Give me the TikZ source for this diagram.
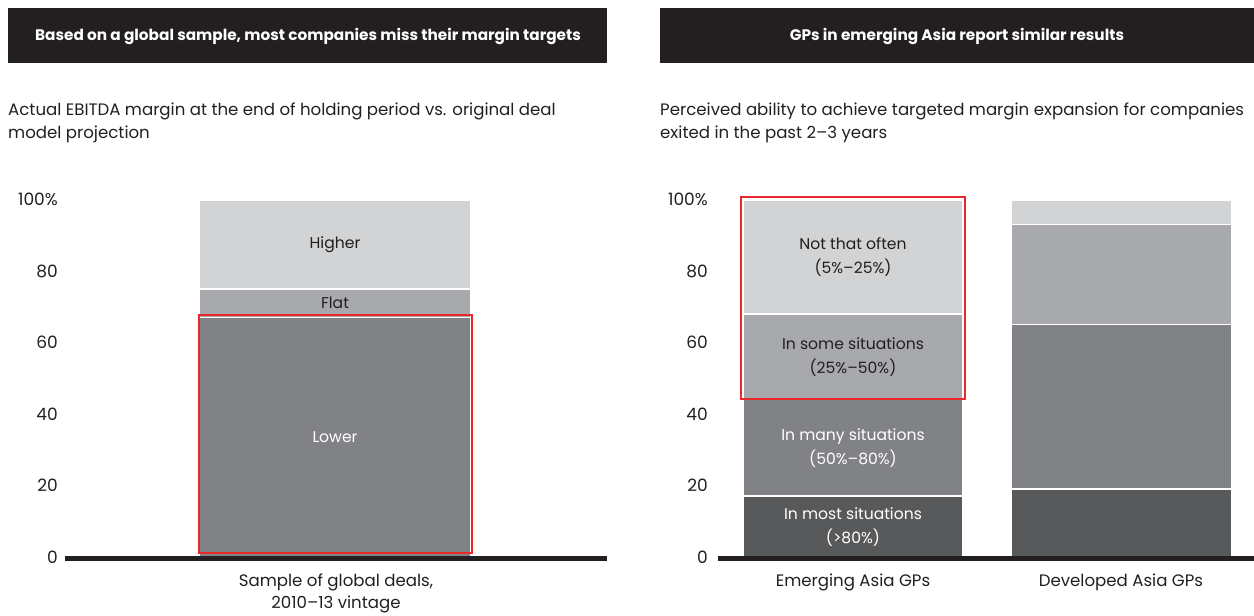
\documentclass[tikz,border=0pt]{standalone}
\usepackage{fontspec}
\setmainfont{Poppins}
\usepackage{xcolor}
\usetikzlibrary{positioning}
\definecolor{headdark}{RGB}{35,31,32}
\definecolor{segone}{RGB}{88,89,91}
\definecolor{segtwo}{RGB}{128,130,133}
\definecolor{segthree}{RGB}{167,169,172}
\definecolor{segfour}{RGB}{209,211,212}
\definecolor{flagred}{RGB}{232,40,43}
\definecolor{textdark}{RGB}{35,31,32}

\begin{document}
\begin{tikzpicture}[x=1pt, y=1pt,
    headbox/.style={fill=headdark, draw=none},
    headtext/.style={text=white, font=\fontsize{15.3}{17}\selectfont\bfseries},
    subtext/.style={text=textdark, anchor=west, align=left, inner sep=0pt, font=\fontsize{16.6}{23}\selectfont},
    ticklabel/.style={text=textdark, anchor=east, inner sep=0pt, font=\fontsize{17}{19}\selectfont},
    seglabel/.style={align=center, inner sep=0pt, font=\fontsize{15.6}{24}\selectfont},
    catlabel/.style={text=textdark, align=center, inner sep=0pt, font=\fontsize{16.6}{22}\selectfont},
    redbox/.style={draw=flagred, line width=1.6pt}]
\useasboundingbox (0,0) rectangle (1254,616);

% Header bars
\fill[headbox] (8,553) rectangle (607,608);
\fill[headbox] (660,553) rectangle (1254,608);
\node[headtext] (headL) at (308,580) {Based on a global sample, most companies miss their margin targets};
\node[headtext] (headR) at (957,580) {GPs in emerging Asia report similar results};

% Subtitles
\node[subtext] (subL) at (8,493) {Actual EBITDA margin at the end of holding period vs. original deal\\model projection};
\node[subtext] (subR) at (660,493) {Perceived ability to achieve targeted margin expansion for companies\\exited in the past 2--3 years};

% Tick labels
\foreach \p in {0,20,40,60,80} {
    \node[ticklabel] (tickL\p) at (58, {59+\p*3.575}) {\p};
    \node[ticklabel] (tickR\p) at (708, {59+\p*3.575}) {\p};
}
\node[ticklabel] (tickL100) at (58, {59+100*3.575}) {100\%};
\node[ticklabel] (tickR100) at (708, {59+100*3.575}) {100\%};

% Stacked segments
\foreach \xl/\xr/\lo/\hi/\col in {200/470/0/67/segtwo, 200/470/67/75/segthree, 200/470/75/99.5/segfour,
    744/962/0/17/segone, 744/962/17/44/segtwo, 744/962/44/68/segthree, 744/962/68/99.5/segfour,
    1012/1231/0/19/segone, 1012/1231/19/65/segtwo, 1012/1231/65/93/segthree, 1012/1231/93/99.5/segfour} {
    \fill[\col] (\xl, {59+\lo*3.575}) rectangle (\xr, {59+\hi*3.575});
}
% White separators
\foreach \xl/\xr/\h in {200/470/67, 200/470/75, 744/962/17, 744/962/44, 744/962/68,
    1012/1231/19, 1012/1231/65, 1012/1231/93} {
    \draw[white, line width=1.5pt] (\xl, {59+\h*3.575}) -- (\xr, {59+\h*3.575});
}

% Baselines
\draw[headdark, line width=5pt] (65,57) -- (607,57);
\draw[headdark, line width=5pt] (718,57) -- (1254,57);

% Segment labels
\node[seglabel, text=textdark] (higher) at (335, {59+87.5*3.575}) {Higher};
\node[seglabel, text=textdark] (flat) at (335, {59+71*3.575}) {Flat};
\node[seglabel, text=white] (lower) at (335, {59+33.5*3.575}) {Lower};
\node[seglabel, text=textdark] (notoften) at (853, {59+84*3.575}) {Not that often\\(5\%--25\%)};
\node[seglabel, text=textdark] (some) at (853, {59+56*3.575}) {In some situations\\(25\%--50\%)};
\node[seglabel, text=white] (many) at (853, {59+30.5*3.575}) {In many situations\\(50\%--80\%)};
\node[seglabel, text=white] (most) at (853, {59+8.5*3.575}) {In most situations\\(>80\%)};

% Highlight boxes
\draw[redbox] (199,63) rectangle (472,301);
\draw[redbox] (741,217) rectangle (965,419);

% Category labels
\node[catlabel] (catL) at (336,23) {Sample of global deals,\\2010--13 vintage};
\node[catlabel] (catE) at (853,34) {Emerging Asia GPs};
\node[catlabel] (catD) at (1121,34) {Developed Asia GPs};

\end{tikzpicture}
\end{document}
